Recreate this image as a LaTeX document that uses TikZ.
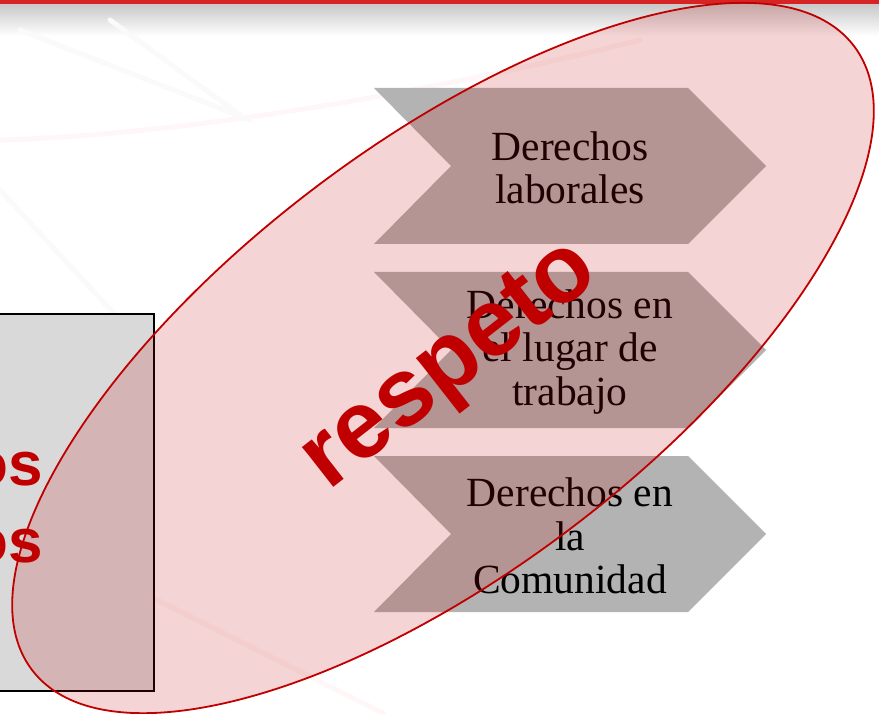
\documentclass[tikz,border=0pt]{standalone}
\usepackage{fontspec}
\setmainfont{Liberation Serif}
\newfontfamily\arialfont{Liberation Sans}
\usetikzlibrary{shapes.geometric}
\definecolor{barred}{RGB}{214,36,36}
\definecolor{bargray}{RGB}{200,200,200}
\definecolor{chevgray}{RGB}{179,179,179}
\definecolor{boxgray}{RGB}{217,217,217}
\definecolor{darkred}{RGB}{192,0,0}
\tikzset{
  chevshape/.style={fill=chevgray},
  chevtext/.style={font=\fontsize{41.5}{43.5}\selectfont, align=center, text=black, inner sep=0pt},
  leftbox/.style={draw=black, line width=1.6pt, fill=boxgray, inner sep=0pt},
  ostext/.style={font=\arialfont\bfseries\fontsize{62}{74}\selectfont, text=darkred, inner sep=0pt},
  bigellipse/.style={ellipse, draw=darkred, line width=1.8pt, fill=darkred, fill opacity=0.17, draw opacity=1, inner sep=0pt},
  resptext/.style={font=\arialfont\bfseries\fontsize{96}{110}\selectfont, text=darkred, inner sep=0pt},
  swoosh/.style={line cap=round, line width=5pt}
}
\newcommand\chevronat[1]{%
  \fill[chevshape] (374,#1-78) -- (688,#1-78) -- (766,#1) -- (688,#1+78) -- (374,#1+78) -- (451,#1) -- cycle;}
\begin{document}
\begin{tikzpicture}[x=1pt,y=-1pt]
\useasboundingbox (0,0) rectangle (879,714);
\clip (0,0) rectangle (879,714);
% background
\fill[white] (0,0) rectangle (879,714);
\shade[top color=bargray, bottom color=white] (0,4) rectangle (879,36);
\fill[barred] (0,0) rectangle (879,4.5);
% faint swooshes
\draw[swoosh, red!3] (0,140) .. controls (180,135) and (420,95) .. (640,40);
\draw[swoosh, black!2] (20,30) -- (250,120);
\draw[swoosh, black!2] (110,20) -- (240,115);
\draw[swoosh, black!2] (0,190) -- (120,320);
\draw[swoosh, red!3] (157,600) -- (383,713);
% left box
\node[leftbox, minimum width=180pt, minimum height=377pt, anchor=north east] (box) at (155,313) {};
\node[ostext, anchor=base east] (os1) at (43,485) {os};
\node[ostext, anchor=base east] (os2) at (43,562) {os};
% chevrons
\chevronat{166}
\node[chevtext] (c1) at (570,168) {Derechos\\laborales};
\chevronat{350}
\node[chevtext] (c2) at (570,352) {Derechos en\\el lugar de\\trabajo};
\chevronat{534}
\node[chevtext] (c3) at (570,536) {Derechos en\\la\\Comunidad};
% ellipse overlay
\node[bigellipse, minimum width=1032pt, minimum height=426pt, rotate=37.2] (ell) at (443,358) {};
\node[resptext, rotate=38] (resp) at (452,368) {respeto};
\end{tikzpicture}
\end{document}
